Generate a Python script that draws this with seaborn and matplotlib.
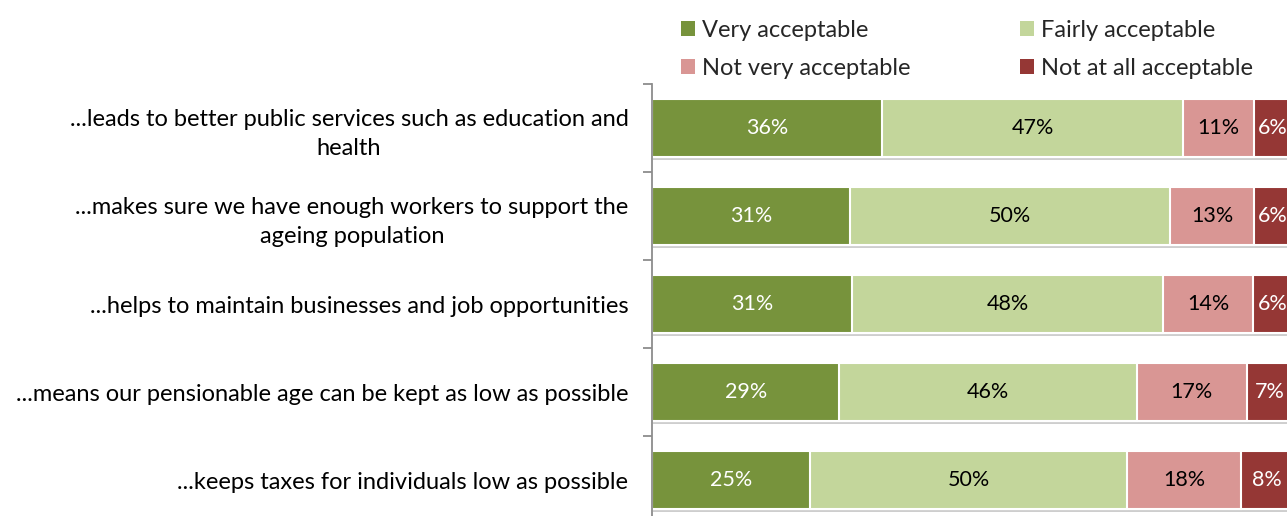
import matplotlib
matplotlib.use("Agg")
import matplotlib.pyplot as plt
import matplotlib.patheffects as pe
from matplotlib.patches import Patch
import numpy as np
import pandas as pd
import seaborn as sns

# Survey statements and response percentages
statements = [
    "...leads to better public services such as education and\nhealth",
    "...makes sure we have enough workers to support the\nageing population",
    "...helps to maintain businesses and job opportunities",
    "...means our pensionable age can be kept as low as possible",
    "...keeps taxes for individuals low as possible",
]
responses = ["Very acceptable", "Fairly acceptable", "Not very acceptable", "Not at all acceptable"]
very_acceptable = [36, 31, 31, 29, 25]
fairly_acceptable = [47, 50, 48, 46, 50]
not_very_acceptable = [11, 13, 14, 17, 18]
not_at_all_acceptable = [6, 6, 6, 7, 8]

colors = ["#77933C", "#C3D69B", "#D99694", "#953735"]
text_colors = ["white", "black", "black", "white"]

sns.set_theme(style="white")
plt.rcParams["font.family"] = ["Lato", "DejaVu Sans"]

values = np.array([very_acceptable, fairly_acceptable, not_very_acceptable, not_at_all_acceptable], dtype=float)
# 100% stacked: each row scaled to its own total
shares = values / values.sum(axis=0) * 100
cum = np.cumsum(shares, axis=0)

df = pd.DataFrame({"statement": statements})
for i, r in enumerate(responses):
    df[r + "_end"] = cum[i]

W, H = 1287, 516
fig = plt.figure(figsize=(W / 100, H / 100), dpi=100)
ax = fig.add_axes([652 / W, (H - 524) / H, 640 / W, 440 / H])

# Draw cumulative layers from the longest to the shortest so they stack
for i in range(len(responses) - 1, -1, -1):
    sns.barplot(data=df, y="statement", x=responses[i] + "_end", color=colors[i],
                width=0.65, edgecolor="white", linewidth=1.5, saturation=1, ax=ax,
                orient="h")
    if i == len(responses) - 1:
        for p in ax.patches:
            p.set_path_effects([pe.SimplePatchShadow(offset=(0.5, -2.5), shadow_rgbFace="0.45", alpha=0.35),
                                pe.Normal()])

# Value labels centred in each segment
for i in range(len(responses)):
    start = cum[i] - shares[i]
    for j in range(len(statements)):
        ax.text(start[j] + shares[i][j] / 2, j, f"{int(values[i][j])}%",
                ha="center", va="center", color=text_colors[i], fontsize=15.5)

ax.set_xlim(0, 100)
ax.set_ylim(len(statements) - 0.5, -0.5)
ax.set_xlabel("")
ax.set_ylabel("")
ax.set_xticks([])

for s in ["top", "right", "bottom"]:
    ax.spines[s].set_visible(False)
ax.spines["left"].set_color("#8c8c8c")
ax.spines["left"].set_linewidth(1.3)

ax.set_yticks(np.arange(len(statements)))
ax.set_yticklabels(statements, fontsize=17, multialignment="center", linespacing=1.45)
ax.set_yticks(np.arange(len(statements) + 1) - 0.5, minor=True)
ax.tick_params(axis="y", which="major", length=0, pad=17, colors="black")
ax.tick_params(axis="y", which="minor", length=6.5, width=1.3, color="#8c8c8c", left=True)
ax.tick_params(axis="y", which="major", left=False)

handles = [Patch(facecolor=c, edgecolor="none") for c in colors]
order = [0, 2, 1, 3]
fig.legend([handles[k] for k in order], [responses[k] for k in order], ncol=2,
           loc="upper left", bbox_to_anchor=(660 / W, 1 + 1 / H), frameon=False,
           fontsize=17, handlelength=0.6, handleheight=0.6, handletextpad=0.3,
           columnspacing=4.6, labelspacing=0.72)

fig.savefig("out.png", dpi=100)
